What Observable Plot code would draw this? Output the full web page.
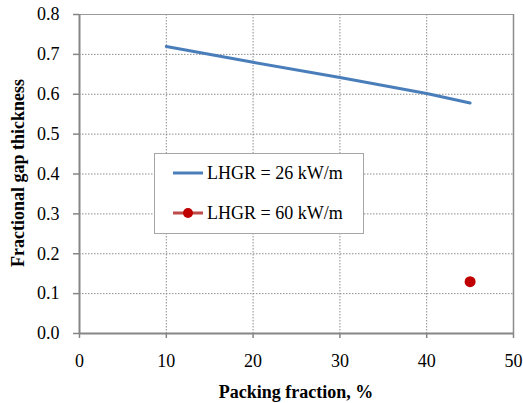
<!DOCTYPE html>
<html>
<head>
<meta charset="utf-8">
<script src="https://cdn.jsdelivr.net/npm/d3@7"></script>
<script src="https://cdn.jsdelivr.net/npm/@observablehq/plot@0.6"></script>
<style>
  html, body { margin: 0; padding: 0; background: #fff; }
  #wrap { position: relative; width: 523px; height: 403px; font-family: Tinos, serif; }
  #wrap svg text { font-family: Tinos, serif; }
  #legend { position: absolute; left: 154px; top: 153px; width: 208px; height: 79px; border: 1px solid #a6a6a6; background: #fff; box-sizing: content-box; }
  .item { position: absolute; left: 17px; height: 20px; display: flex; align-items: center; font-size: 18px; color: #000; font-family: Tinos, serif; }
  .item svg { margin-right: 3px; }
</style>
</head>
<body>
<div id="wrap"></div>
<script>
// Data
const packing26 = [10, 20, 30, 40, 45];
const gap26 = [0.72, 0.68, 0.642, 0.602, 0.578];
const packing60 = [45];
const gap60 = [0.13];
const xTicks = [0, 10, 20, 30, 40, 50];
const yTicks = [0, 0.1, 0.2, 0.3, 0.4, 0.5, 0.6, 0.7, 0.8];
const seriesNames = ["LHGR = 26 kW/m", "LHGR = 60 kW/m"];
const colors = { line26: "#4a7ebb", line60: "#be4b48", dot60: "#c00000" };

const s26 = packing26.map((x, i) => ({ x, y: gap26[i] }));
const s60 = packing60.map((x, i) => ({ x, y: gap60[i] }));

const font = "Tinos, serif";

const chart = Plot.plot({
  width: 523,
  height: 403,
  marginLeft: 79,
  marginRight: 10,
  marginTop: 14,
  marginBottom: 70,
  style: { fontFamily: font, fontSize: "18px", color: "#000", background: "#fff" },
  x: { domain: [0, 50] },
  y: { domain: [0, 0.8] },
  marks: [
    Plot.gridX(xTicks.filter(d => d > 0 && d < 50), { stroke: "#8c8c8c", strokeOpacity: 1, strokeDasharray: "1.5,1.5" }),
    Plot.gridY(yTicks.filter(d => d > 0 && d < 0.8), { stroke: "#8c8c8c", strokeOpacity: 1, strokeDasharray: "1.5,1.5" }),
    Plot.ruleY([0.8], { stroke: "#9a9a9a", strokeWidth: 1 }),
    Plot.ruleX([50], { stroke: "#8c8c8c", strokeWidth: 1.5 }),
    Plot.ruleX([0], { stroke: "#868686", strokeWidth: 2 }),
    Plot.ruleY([0], { stroke: "#868686", strokeWidth: 2 }),
    Plot.axisY({ ticks: yTicks, tickFormat: d3.format(".1f"), tickSize: 6, tickPadding: 14, stroke: "#868686", strokeWidth: 1.5, fontSize: 18, fill: "#000", label: null }),
    Plot.axisX({ ticks: xTicks, tickFormat: d => d, tickSize: 5, tickPadding: 16, stroke: "#868686", strokeWidth: 1.5, fontSize: 18, fill: "#000", label: null }),
    Plot.line(s26, { x: "x", y: "y", stroke: colors.line26, strokeWidth: 3 }),
    Plot.dot(s60, { x: "x", y: "y", r: 5.5, fill: colors.dot60, stroke: null })
  ]
});

const svg = d3.select(chart);
svg.selectAll("text").attr("font-family", font);
// Axis titles
svg.append("text")
  .attr("x", 296).attr("y", 398)
  .attr("text-anchor", "middle")
  .attr("font-family", font).attr("font-size", 18).attr("font-weight", "bold")
  .text("Packing fraction, %");
svg.append("text")
  .attr("transform", "translate(24,173) rotate(-90)")
  .attr("text-anchor", "middle")
  .attr("font-family", font).attr("font-size", 18).attr("font-weight", "bold")
  .text("Fractional gap thickness");

const wrap = document.getElementById("wrap");
wrap.appendChild(chart);

// Legend
const legend = document.createElement("div");
legend.id = "legend";
legend.innerHTML = `
  <div class="item" style="top:9px">
    <svg width="32" height="10"><line x1="1" x2="31" y1="5" y2="5" stroke="${colors.line26}" stroke-width="3"/></svg>
    <span>${seriesNames[0]}</span>
  </div>
  <div class="item" style="top:49px">
    <svg width="32" height="12"><line x1="1" x2="31" y1="6" y2="6" stroke="${colors.line60}" stroke-width="3"/><circle cx="16" cy="6" r="5" fill="${colors.dot60}"/></svg>
    <span>${seriesNames[1]}</span>
  </div>`;
wrap.appendChild(legend);
</script>
</body>
</html>
